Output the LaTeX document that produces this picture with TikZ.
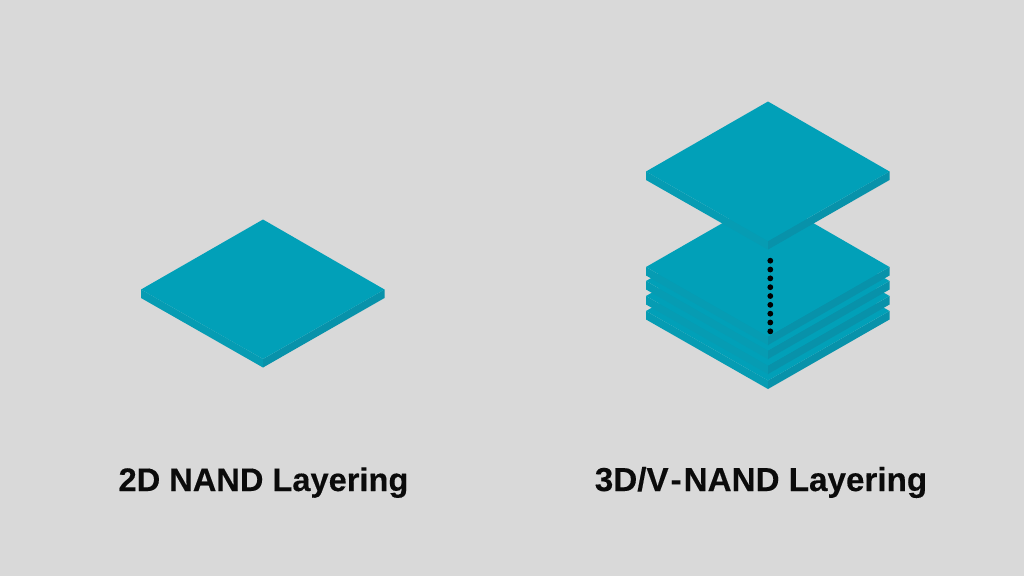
\documentclass[tikz,border=0pt]{standalone}
\usepackage{fontspec}
\setmainfont{Liberation Sans}[BoldFeatures={FakeBold=0.25}]
\definecolor{canvas}{HTML}{D9D9D9}
\definecolor{facetop}{HTML}{01A0B8}
\definecolor{faceleft}{HTML}{069CB3}
\definecolor{faceright}{HTML}{0892AA}
\tikzset{
  caption/.style={text=black!95!canvas, inner sep=0pt, anchor=base},
  plate/.pic={
    \fill[faceleft] (-122,0) -- (0,69.5) -- (0,78) -- (-122,8.5) -- cycle;
    \fill[faceright] (121.5,0) -- (0,69.5) -- (0,78) -- (121.5,8.5) -- cycle;
    \fill[facetop] (0,-70) -- (121.5,0) -- (0,69.5) -- (-122,0) -- cycle;
  }
}
\begin{document}
\begin{tikzpicture}[x=1pt,y=-1pt]
  \useasboundingbox (0,0) rectangle (1024,576);
  \fill[canvas] (0,0) rectangle (1024,576);

  % single planar layer
  \pic at (263,289.5) {plate};

  % vertical stack, drawn from the bottom layer upward
  \pic at (768,311) {plate};
  \pic at (768,296) {plate};
  \pic at (768,281) {plate};
  \pic at (768,267) {plate};
  \pic at (768,171.5) {plate};

  % dotted column running down through the stack
  \foreach \i in {0,...,8} {
    \fill[black] (770.3,{260.7+8.83*\i}) circle (2.9);
  }

  \node[caption, font=\fontsize{32.6}{36}\selectfont\bfseries] (flat) at (263.5,491) {2D NAND Layering};
  \node[caption, font=\fontsize{33.2}{36}\selectfont\bfseries] (stacked) at (761,491) {3D/V\kern2pt-\kern2pt NAND Layering};
\end{tikzpicture}
\end{document}
